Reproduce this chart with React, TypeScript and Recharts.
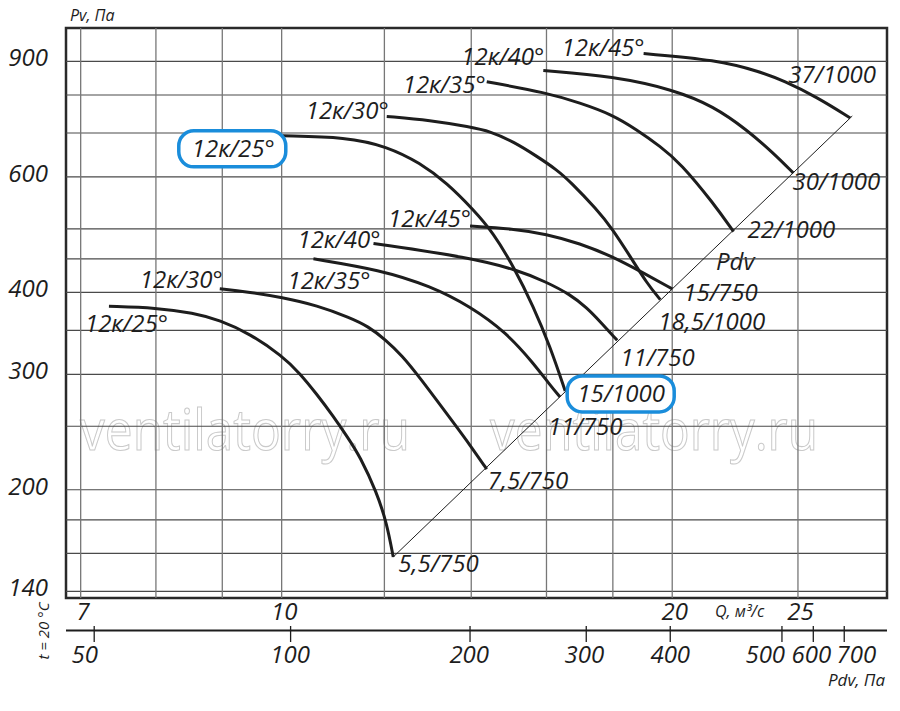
import React from 'react';
import { LineChart, Line, XAxis, YAxis, ReferenceLine, ReferenceDot, ReferenceArea } from 'recharts';

// ---------------- data ----------------
const Q_DOMAIN: [number, number] = [6.82, 29.28];
const P_DOMAIN: [number, number] = [136.8, 1012];

const qTickValues = [7, 10, 20, 25];
const pTickValues = [140, 200, 300, 400, 600, 900];
const qGridValues = [7, 8, 9, 10, 12, 14, 16, 18, 20, 25];
const pGridValues = [140, 160, 180, 200, 250, 300, 350, 400, 450, 500, 600, 700, 800, 900];

const pdvTickLabels = ['50', '100', '200', '300', '400', '500', '600', '700'];
const pdvTickAtQ = [7.17, 10.16, 13.97, 17.17, 19.93, 24.3, 25.69, 27.14];
const pdvLabelAtQ = [7.05, 10.15, 13.95, 17.11, 19.93, 23.59, 25.6, 27.73];

// 750 rpm family
const L25_Q = [7.36, 8.01, 8.55, 8.96, 9.45, 10.01, 10.33, 10.64, 10.96, 11.25, 11.49, 11.84, 12.05, 12.19];
const L25_P = [381, 379, 372, 363, 346, 320, 301, 280, 259, 240, 225, 198, 178, 158];
const L30_Q = [8.96, 9.4, 10.01, 10.65, 11.29, 11.66, 12.02, 12.39, 12.74, 13.61, 13.97, 14.39];
const L30_P = [405, 401, 393, 382, 366, 355, 339, 320, 299, 251, 234, 215];
const L35_Q = [10.58, 11.91, 13.02, 13.97, 14.91, 15.63, 16.1, 16.39];
const L35_P = [450, 433, 409, 381, 347, 312, 289, 277];
const L40_Q = [11.77, 13.97, 15.18, 15.99, 16.69, 17.19, 17.6, 18.14];
const L40_P = [475, 452, 433, 415, 397, 379, 361, 338];
const L45_Q = [13.97, 15.08, 15.99, 16.98, 17.97, 19.01, 20.0];
const L45_P = [505, 500, 491, 475, 454, 428, 405];
// 1000 rpm family
const U25_Q = [10.02, 11.22, 12.05, 12.79, 13.41, 14.05, 14.56, 15.09, 15.63, 16.1, 16.54];
const U25_P = [693, 690, 668, 630, 587, 535, 493, 438, 381, 331, 283];
const U30_Q = [12.05, 13.02, 13.97, 14.48, 15.09, 15.73, 16.3, 16.69, 17.5, 17.97, 18.56, 19.12, 19.58];
const U30_P = [742, 732, 715, 704, 679, 645, 615, 590, 535, 501, 454, 413, 390];
const U35_Q = [14.39, 16.01, 16.98, 17.97, 18.78, 19.58, 20.29, 21.52, 22.3];
const U35_P = [838, 806, 778, 747, 708, 668, 630, 547, 495];
const U40_Q = [15.91, 18.02, 20.05, 21.52, 22.83, 23.94, 24.8];
const U40_P = [872, 854, 815, 769, 708, 652, 608];
const U45_Q = [19.01, 21.65, 23.38, 24.37, 25.86, 27.43];
const U45_P = [925, 905, 868, 841, 794, 738];

// Pdv (dynamic pressure) line
const pdvLineQ = [12.19, 27.53];
const pdvLineP = [158, 743];

const curveIds = ['L25', 'L30', 'L35', 'L40', 'L45', 'U25', 'U30', 'U35', 'U40', 'U45'];
const curveTitles = ['12к/25°', '12к/30°', '12к/35°', '12к/40°', '12к/45°', '12к/25°', '12к/30°', '12к/35°', '12к/40°', '12к/45°'];
const motorLabels = ['5,5/750', '7,5/750', '11/750', '11/750', '15/750', '15/1000', '18,5/1000', '22/1000', '30/1000', '37/1000'];
const curveQ = [L25_Q, L30_Q, L35_Q, L40_Q, L45_Q, U25_Q, U30_Q, U35_Q, U40_Q, U45_Q];
const curveP = [L25_P, L30_P, L35_P, L40_P, L45_P, U25_P, U30_P, U35_P, U40_P, U45_P];

// ---------------- layout (label offsets in px) ----------------
type Lay = { dx: number; dy: number; anchor: 'start' | 'end'; boxed?: boolean };
const titleLayout: Record<string, Lay> = {
  L25: { dx: -24, dy: 26, anchor: 'start' },
  L30: { dx: 3, dy: -1, anchor: 'end' },
  L35: { dx: -26, dy: 30, anchor: 'start' },
  L40: { dx: 7, dy: 5, anchor: 'end' },
  L45: { dx: 1, dy: 1, anchor: 'end' },
  U25: { dx: -8, dy: 21, anchor: 'end', boxed: true },
  U30: { dx: 2, dy: 3, anchor: 'end' },
  U35: { dx: -1, dy: 11, anchor: 'end' },
  U40: { dx: 1, dy: -5, anchor: 'end' },
  U45: { dx: 1, dy: 2, anchor: 'end' },
};
const endLayout: Record<string, Lay> = {
  L25: { dx: 5, dy: 15, anchor: 'start' },
  L30: { dx: 1, dy: 20, anchor: 'start' },
  L35: { dx: -12, dy: 38, anchor: 'start' },
  L40: { dx: 3, dy: 26, anchor: 'start' },
  L45: { dx: 11, dy: 12, anchor: 'start' },
  U25: { dx: 12, dy: 11, anchor: 'start', boxed: true },
  U30: { dx: -2, dy: 30, anchor: 'start' },
  U35: { dx: 14, dy: 6, anchor: 'start' },
  U40: { dx: -1, dy: 17, anchor: 'start' },
  U45: { dx: -62, dy: -35, anchor: 'start' },
};

const FONT = '"Open Sans", "DejaVu Sans", sans-serif';
const INK = '#1d1d1d';
const BLUE = '#1a8ddb';
const FS = 24;

const curves = curveIds.map((id, i) => ({
  id,
  data: curveQ[i].map((q, k) => ({ q, p: curveP[i][k] })),
}));
const pdvLineData = pdvLineQ.map((q, k) => ({ q, p: pdvLineP[k] }));

const makeLabel = (text: string, lay: Lay) => (props: any) => {
  const vb = props.viewBox || { x: 0, y: 0, width: 0, height: 0 };
  const cx = vb.x + (vb.width || 0) / 2;
  const cy = vb.y + (vb.height || 0) / 2;
  const tx = cx + lay.dx;
  const ty = cy + lay.dy;
  let box = null;
  if (lay.boxed) {
    const bx = lay.anchor === 'end' ? tx - 96 : tx - 10;
    box = (
      <rect x={bx} y={ty - 26} width={107} height={36} rx={15} ry={15} fill="#fff" stroke={BLUE} strokeWidth={3.5} />
    );
  }
  return (
    <g>
      {box}
      <text x={tx} y={ty} textAnchor={lay.anchor} fontFamily={FONT} fontStyle="italic" fontSize={FS} fill={INK}>
        {text}
      </text>
    </g>
  );
};

const YTick = (props: any) => (
  <text x={48} y={props.y + 5} textAnchor="end" fontFamily={FONT} fontStyle="italic" fontSize={FS} fill={INK}>
    {props.payload.value}
  </text>
);

const QTick = (props: any) => (
  <text x={props.x + 2.5} y={620} textAnchor="middle" fontFamily={FONT} fontStyle="italic" fontSize={FS} fill={INK}>
    {props.payload.value}
  </text>
);

const PdvTick = (props: any) => (
  <line x1={props.x} x2={props.x} y1={626} y2={642} stroke={INK} strokeWidth={1.3} />
);

const PdvLabelTick = (props: any) => {
  const idx = typeof props.index === 'number' ? props.index : pdvLabelAtQ.indexOf(props.payload.value);
  return (
    <text x={props.x} y={663} textAnchor="middle" fontFamily={FONT} fontStyle="italic" fontSize={FS} fill={INK}>
      {pdvTickLabels[idx]}
    </text>
  );
};

export default function App() {
  return (
    <div style={{ position: 'absolute', left: 0, top: 0, width: 900, height: 711, background: '#fff' }}>
      <svg width={900} height={711} style={{ position: 'absolute', left: 0, top: 0 }}>
        <g fontFamily={FONT} fill="none" stroke="#cacaca" strokeWidth={1.1}>
          <text x={80} y={450} fontSize={56} textLength={330} lengthAdjust="spacingAndGlyphs">ventilatorry.ru</text>
          <text x={490} y={450} fontSize={56} textLength={328} lengthAdjust="spacingAndGlyphs">ventilatorry.ru</text>
        </g>
        <line x1={66} x2={887} y1={630.5} y2={630.5} stroke={INK} strokeWidth={2.2} />
        <g fontFamily={FONT} fontStyle="italic" fill={INK}>
          <text x={70} y={21} fontSize={16}>Pv, Па</text>
          <text x={715} y={617} fontSize={16}>Q, м³/с</text>
          <text x={885} y={686} fontSize={17} textAnchor="end">Pdv, Па</text>
          <text x={716} y={270} fontSize={FS}>Pdv</text>
          <text transform="translate(49,631) rotate(-90)" fontSize={15} textAnchor="middle">t = 20 °C</text>
        </g>
      </svg>
      <div style={{ position: 'absolute', left: 0, top: 0 }}>
        <LineChart width={900} height={711} margin={{ top: 28, right: 13, bottom: 0, left: 0 }}>
          <XAxis xAxisId="q" type="number" dataKey="q" scale="log" domain={Q_DOMAIN} allowDataOverflow
            ticks={qTickValues} interval={0} height={32} axisLine={false} tickLine={false} tick={QTick} />
          <XAxis xAxisId="pdv" type="number" dataKey="q" scale="log" domain={Q_DOMAIN} allowDataOverflow
            ticks={pdvTickAtQ} interval={0} height={40} axisLine={false} tickLine={false} tick={PdvTick} />
          <XAxis xAxisId="pdvL" type="number" dataKey="q" scale="log" domain={Q_DOMAIN} allowDataOverflow
            ticks={pdvLabelAtQ} interval={0} height={41} axisLine={false} tickLine={false} tick={PdvLabelTick} />
          <YAxis type="number" dataKey="p" scale="log" domain={P_DOMAIN} allowDataOverflow
            ticks={pTickValues} interval={0} width={66} axisLine={false} tickLine={false} tick={YTick} />

          {pGridValues.map((v) => (
            <ReferenceLine key={'h' + v} xAxisId="q" y={v} stroke="#4a4a4a" strokeWidth={1.1} ifOverflow="visible" />
          ))}
          {qGridValues.map((v) => (
            <ReferenceLine key={'v' + v} xAxisId="q" x={v} stroke="#777" strokeWidth={1.3} ifOverflow="visible" />
          ))}

          <Line xAxisId="q" data={pdvLineData} dataKey="p" type="linear" stroke={INK} strokeWidth={1}
            dot={false} activeDot={false} isAnimationActive={false} />

          {curves.map((c) => (
            <Line key={c.id} xAxisId="q" data={c.data} dataKey="p" type="basis" stroke={INK} strokeWidth={3}
              dot={false} activeDot={false} isAnimationActive={false} />
          ))}

          {curves.map((c, i) => (
            <ReferenceDot key={'t' + c.id} xAxisId="q" x={c.data[0].q} y={c.data[0].p} r={0}
              fill="none" stroke="none" ifOverflow="visible" label={makeLabel(curveTitles[i], titleLayout[c.id])} />
          ))}
          {curves.map((c, i) => (
            <ReferenceDot key={'e' + c.id} xAxisId="q" x={c.data[c.data.length - 1].q} y={c.data[c.data.length - 1].p} r={0}
              fill="none" stroke="none" ifOverflow="visible" label={makeLabel(motorLabels[i], endLayout[c.id])} />
          ))}

          <ReferenceArea xAxisId="q" x1={Q_DOMAIN[0]} x2={Q_DOMAIN[1]} y1={P_DOMAIN[0]} y2={P_DOMAIN[1]}
            fill="none" fillOpacity={0} stroke="#2a2a2a" strokeWidth={2.5} ifOverflow="visible" />
        </LineChart>
      </div>
    </div>
  );
}
